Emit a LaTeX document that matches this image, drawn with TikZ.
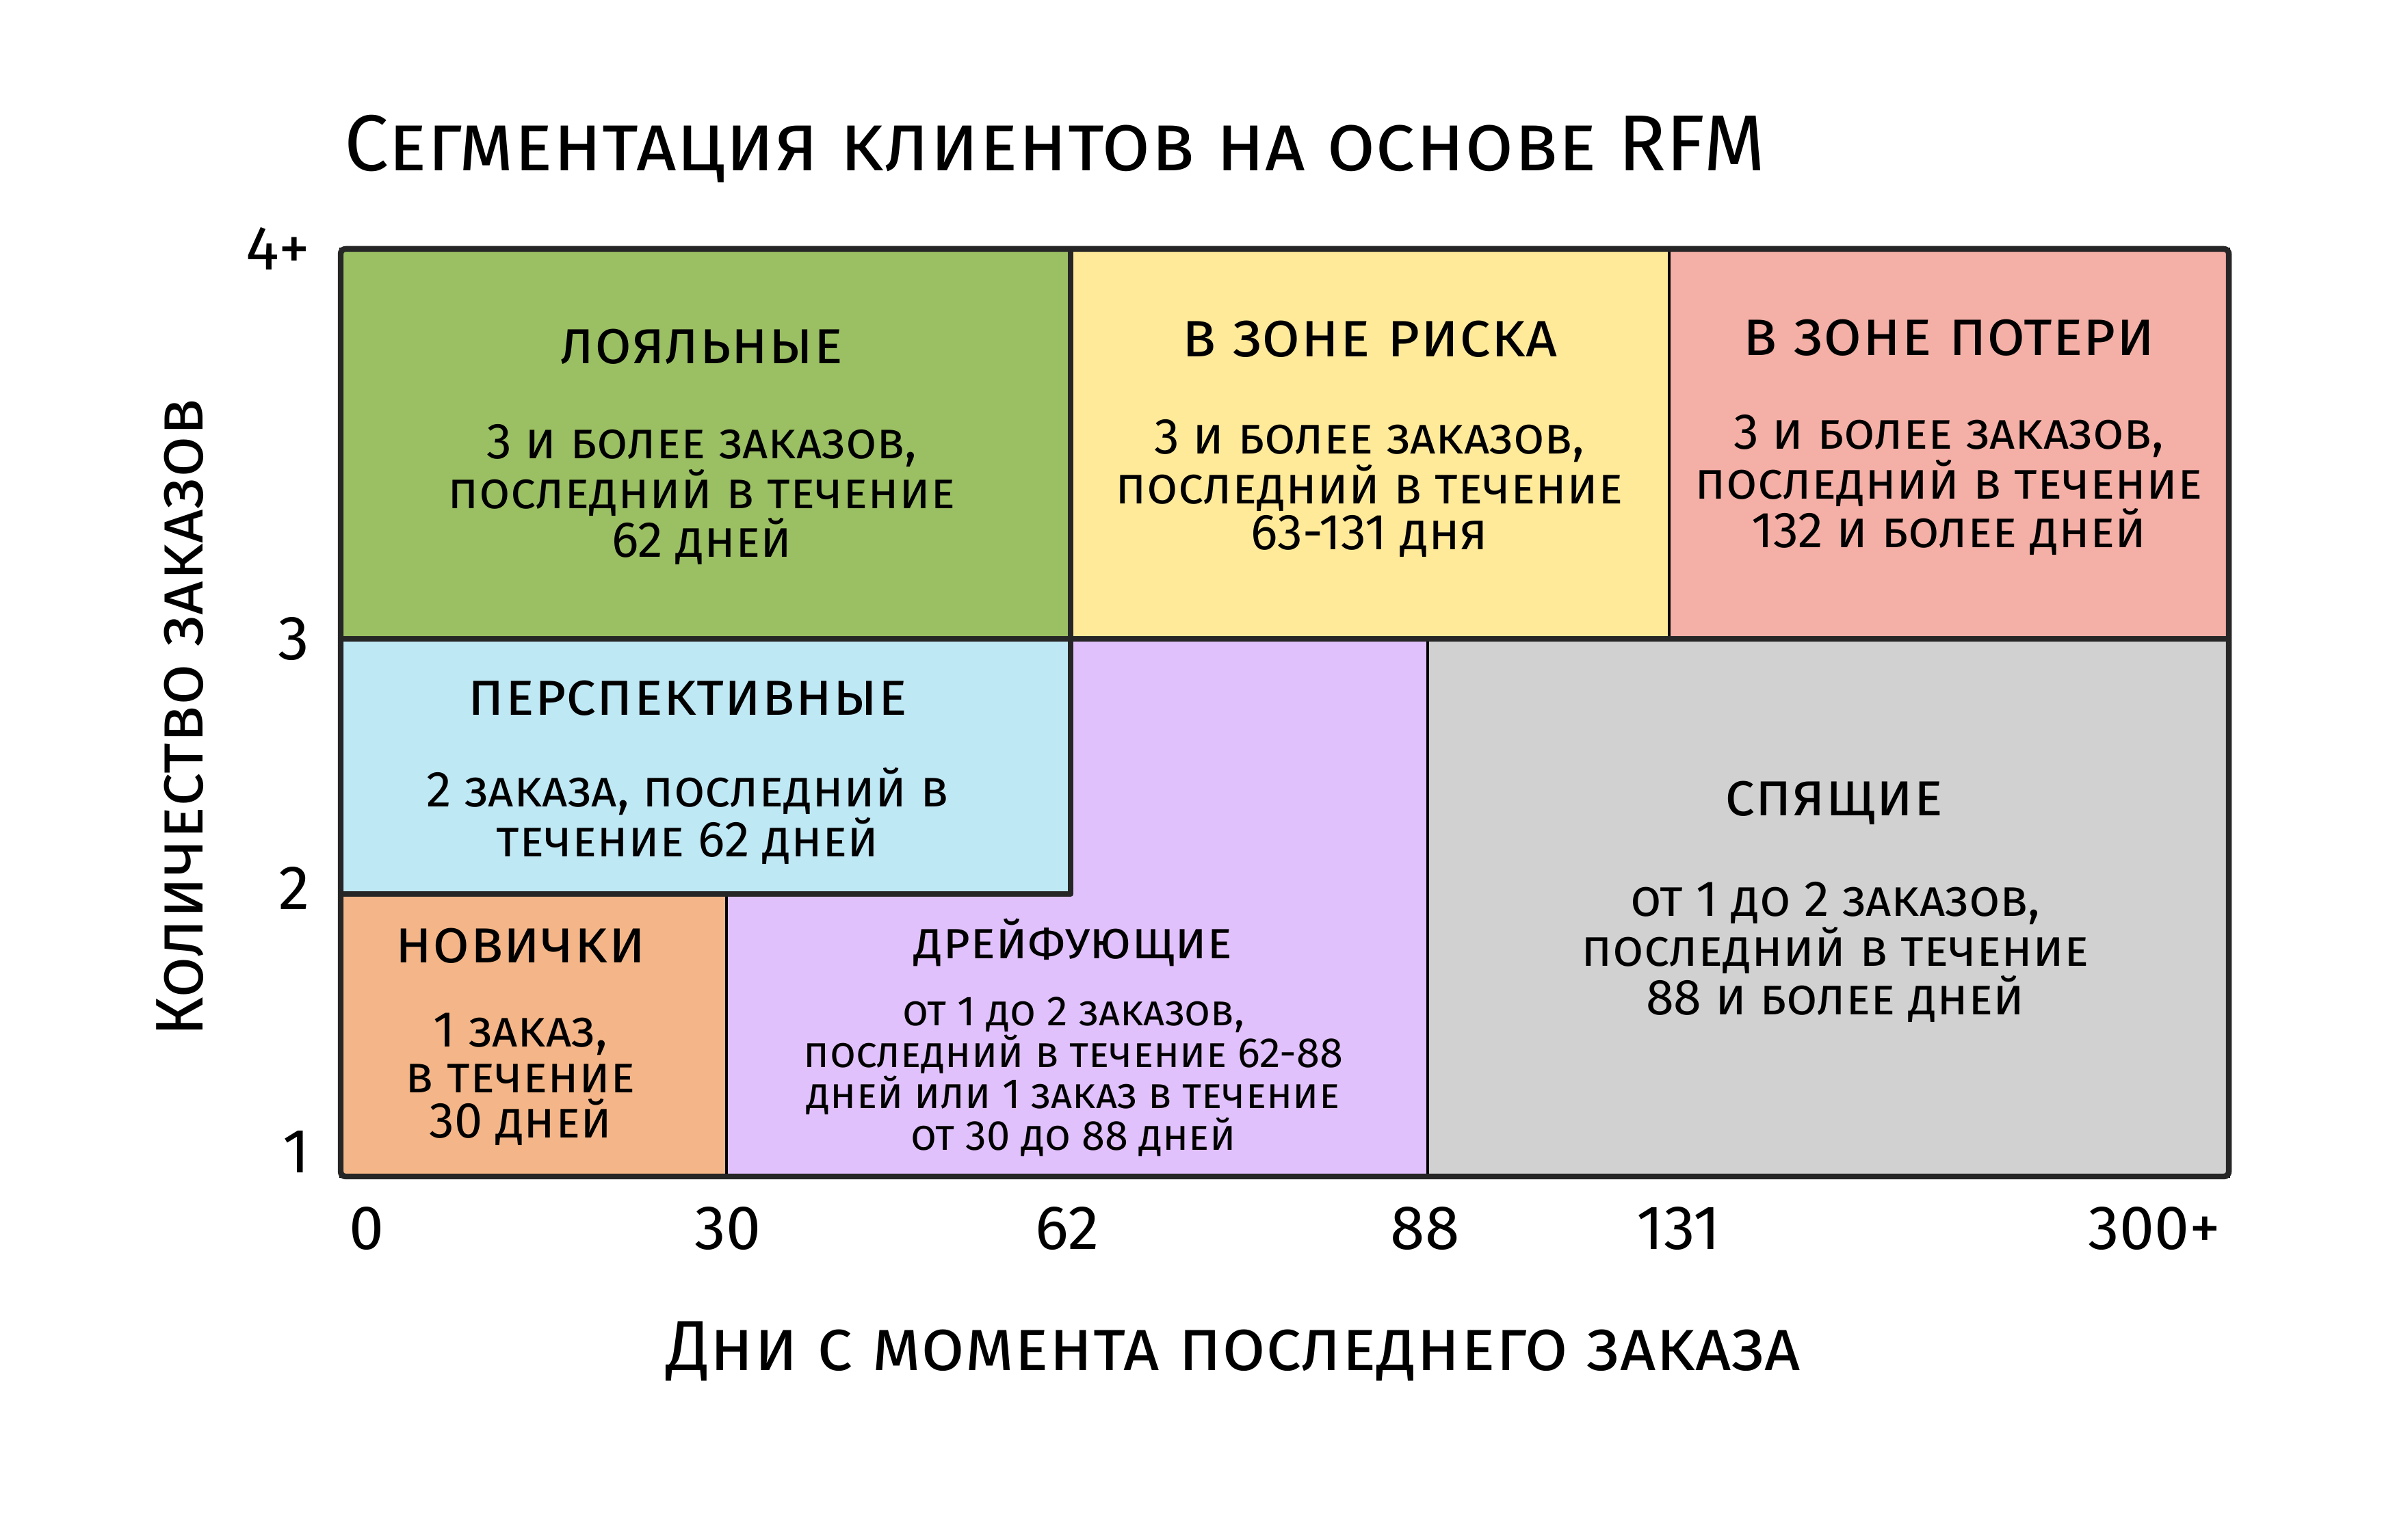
\documentclass[tikz,border=0pt]{standalone}
\usepackage{fontspec}
\setmainfont{Fira Sans}
\usetikzlibrary{positioning}
\definecolor{segloyal}{RGB}{155,191,99}
\definecolor{segrisk}{RGB}{255,234,153}
\definecolor{seglost}{RGB}{244,175,166}
\definecolor{segpromise}{RGB}{191,232,245}
\definecolor{segnew}{RGB}{244,182,136}
\definecolor{segdrift}{RGB}{225,193,251}
\definecolor{segsleep}{RGB}{209,209,209}

\begin{document}
\begin{tikzpicture}[x=1cm,y=1cm,
    thinedge/.style={draw=black,line width=.9pt},
    thickedge/.style={draw=black!85,line width=2.4pt,line join=round},
    segtitle/.style={align=center,font=\fontsize{25}{28}\selectfont\scshape},
    segbody/.style={align=center,font=\fontsize{21}{19}\selectfont\scshape},
    ticklab/.style={font=\fontsize{26}{28}\selectfont}]
  \useasboundingbox (0,0) rectangle (35.2,22.12);

  % Segment areas, recency on x, frequency on y.
  \filldraw[thinedge,fill=segloyal] (4.98,12.78) rectangle (15.65,18.48);
  \filldraw[thinedge,fill=segrisk] (15.65,12.78) rectangle (24.40,18.48);
  \filldraw[thinedge,fill=seglost] (24.40,12.78) rectangle (32.58,18.48);
  \filldraw[thinedge,fill=segpromise] (4.98,9.05) rectangle (15.65,12.78);
  \filldraw[thinedge,fill=segnew] (4.98,4.92) rectangle (10.62,9.05);
  \filldraw[thinedge,fill=segdrift] (10.62,4.92) -- (20.87,4.92)
    -- (20.87,12.78) -- (15.65,12.78) -- (15.65,9.05) -- (10.62,9.05) -- cycle;
  \filldraw[thinedge,fill=segsleep] (20.87,4.92) rectangle (32.58,12.78);

  % Heavier strokes.
  \draw[thickedge] (4.98,12.78) -- (32.58,12.78);
  \draw[thickedge] (15.65,12.78) -- (15.65,18.48);
  \draw[thickedge] (4.98,9.05) rectangle (15.65,12.78);
  \draw[thickedge,rounded corners=2pt] (4.98,4.92) rectangle (32.58,18.48);

  % Segment labels.
  \node[segtitle] (loyalname) at (10.26,17.05) {лояльные};
  \node[segbody] (loyaltext) at (10.26,14.89)
    {3 и более заказов,\\последний в течение\\62 дней};
  \node[segtitle,font=\fontsize{26}{28}\selectfont\scshape] (riskname)
    at (20.02,17.16) {в зоне риска};
  \node[segbody] (risktext) at (20.02,14.98)
    {3 и более заказов,\\последний в течение\\63-131 дня};
  \node[segtitle,font=\fontsize{26}{28}\selectfont\scshape] (lostname)
    at (28.49,17.18) {в зоне потери};
  \node[segbody] (losttext) at (28.49,15.03)
    {3 и более заказов,\\последний в течение\\132 и более дней};
  \node[segtitle] (promisename) at (10.05,11.91) {перспективные};
  \node[segbody] (promisetext) at (10.05,10.19)
    {2 заказа, последний в\\течение 62 дней};
  \node[segtitle] (newname) at (7.61,8.29) {новички};
  \node[segbody] (newtext) at (7.61,6.34) {1 заказ,\\в течение\\30 дней};
  \node[segtitle,font=\fontsize{21.5}{26}\selectfont\scshape] (driftname)
    at (15.69,8.34) {дрейфующие};
  \node[segbody,font=\fontsize{17.5}{15.9}\selectfont\scshape] (drifttext)
    at (15.69,6.38) {от 1 до 2 заказов,\\последний в течение 62-88\\дней или 1 заказ в течение\\от 30 до 88 дней};
  \node[segtitle] (sleepname) at (26.81,10.38) {спящие};
  \node[segbody] (sleeptext) at (26.83,8.20)
    {от 1 до 2 заказов,\\последний в течение\\88 и более дней};

  % Axis ticks.
  \node[ticklab,anchor=east] (y4) at (4.65,18.48) {4+};
  \node[ticklab,anchor=east] (y3) at (4.65,12.78) {3};
  \node[ticklab,anchor=east] (y2) at (4.65,9.14) {2};
  \node[ticklab,anchor=east] (y1) at (4.65,5.28) {1};
  \node[ticklab,anchor=west] (x0) at (4.98,4.16) {0};
  \node[ticklab] (x30) at (10.64,4.16) {30};
  \node[ticklab] (x62) at (15.60,4.16) {62};
  \node[ticklab] (x88) at (20.83,4.16) {88};
  \node[ticklab] (x131) at (24.54,4.16) {131};
  \node[ticklab,anchor=east] (x300) at (32.58,4.16) {300+};

  % Titles.
  \node[font=\fontsize{33}{40}\selectfont\scshape] (charttitle) at (15.42,19.94)
    {Сегментация клиентов на основе RFM};
  \node[font=\fontsize{28}{32}\selectfont\scshape,rotate=90] (ytitle)
    at (2.63,11.63) {Количество заказов};
  \node[font=\fontsize{29.5}{32}\selectfont\scshape] (xtitle) at (18.03,2.36)
    {Дни с момента последнего заказа};
\end{tikzpicture}
\end{document}
